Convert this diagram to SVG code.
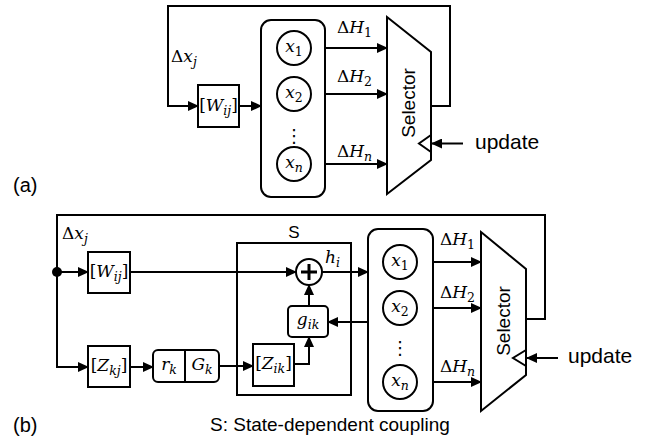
<svg xmlns="http://www.w3.org/2000/svg" width="651" height="438" viewBox="0 0 651 438">
<defs>
<marker id="arr" markerUnits="userSpaceOnUse" markerWidth="11" markerHeight="10" refX="10" refY="5" orient="auto">
<path d="M0,0 L11,5 L0,10 z" fill="#000"/>
</marker>
<style>
.ln{fill:none;stroke:#000;stroke-width:2;stroke-linejoin:miter}
.bx{fill:#fff;stroke:#000;stroke-width:2}
.sans{font-family:"Liberation Sans",Arial,sans-serif;fill:#000}
.m{font-family:"DejaVu Serif","Liberation Serif",serif;font-size:17px;fill:#000}
.it{font-style:italic}
.sb{font-size:12.5px}
.dots{font-family:"DejaVu Sans",sans-serif;font-size:18px;fill:#000}
</style>
</defs>
<rect width="651" height="438" fill="#fff"/>

<g id="connectors">
<polyline class="ln" points="431,106 450,106 450,6 168,6 168,106 198,106" marker-end="url(#arr)"/>
<line class="ln" x1="239" y1="106" x2="261" y2="106" marker-end="url(#arr)"/>
<line class="ln" x1="311" y1="48" x2="387" y2="48" marker-end="url(#arr)"/>
<line class="ln" x1="311" y1="94" x2="387" y2="94" marker-end="url(#arr)"/>
<line class="ln" x1="311" y1="164" x2="387" y2="164" marker-end="url(#arr)"/>
<line class="ln" x1="463" y1="143.5" x2="432" y2="143.5" marker-end="url(#arr)"/>
<polyline class="ln" points="526,319 545,319 545,215 57,215 57,367 88,367" marker-end="url(#arr)"/>
<line class="ln" x1="57" y1="272" x2="88" y2="272" marker-end="url(#arr)"/>
<line class="ln" x1="130" y1="272" x2="296" y2="272" marker-end="url(#arr)"/>
<line class="ln" x1="130" y1="367" x2="153" y2="367" marker-end="url(#arr)"/>
<line class="ln" x1="219" y1="366" x2="253" y2="366" marker-end="url(#arr)"/>
<polyline class="ln" points="294,364 309,364 309,337" marker-end="url(#arr)"/>
<line class="ln" x1="309" y1="306" x2="309" y2="285" marker-end="url(#arr)"/>
<line class="ln" x1="322" y1="272" x2="368" y2="272" marker-end="url(#arr)"/>
<line class="ln" x1="368" y1="322" x2="328" y2="322" marker-end="url(#arr)"/>
<line class="ln" x1="417" y1="262" x2="481" y2="262" marker-end="url(#arr)"/>
<line class="ln" x1="417" y1="308" x2="481" y2="308" marker-end="url(#arr)"/>
<line class="ln" x1="417" y1="382" x2="481" y2="382" marker-end="url(#arr)"/>
<line class="ln" x1="558" y1="358" x2="527" y2="358" marker-end="url(#arr)"/>
<circle cx="57" cy="272" r="5" fill="#000"/>
</g>

<g id="labels">
<text class="sans" x="13" y="192" font-size="20">(a)</text>
<text class="sans" x="13" y="432" font-size="20">(b)</text>
<text class="m" x="171" y="62">Δ<tspan class="it">x</tspan><tspan class="it sb" dy="4">j</tspan></text>
<text class="m" x="62" y="239">Δ<tspan class="it">x</tspan><tspan class="it sb" dy="4">j</tspan></text>
<text class="m" x="337" y="33">Δ<tspan class="it">H</tspan><tspan class="sb" dy="4">1</tspan></text>
<text class="m" x="337" y="82">Δ<tspan class="it">H</tspan><tspan class="sb" dy="4">2</tspan></text>
<text class="m" x="337" y="157">Δ<tspan class="it">H</tspan><tspan class="it sb" dy="4">n</tspan></text>
<text class="m" x="440" y="245">Δ<tspan class="it">H</tspan><tspan class="sb" dy="4">1</tspan></text>
<text class="m" x="440" y="298">Δ<tspan class="it">H</tspan><tspan class="sb" dy="4">2</tspan></text>
<text class="m" x="440" y="372">Δ<tspan class="it">H</tspan><tspan class="it sb" dy="4">n</tspan></text>
<text class="m" x="325" y="263"><tspan class="it">h</tspan><tspan class="it sb" dy="4">i</tspan></text>
<text class="sans" x="475" y="149" font-size="21">update</text>
<text class="sans" x="568" y="363" font-size="21">update</text>
<text class="sans" x="294" y="238" font-size="17" text-anchor="middle">S</text>
<text class="sans" x="210" y="431" font-size="19">S: State-dependent coupling</text>
</g>

<g id="a-W">
<rect class="bx" x="198" y="85" width="41" height="42"/>
<text class="m" x="218.5" y="111" text-anchor="middle">[<tspan class="it">W</tspan><tspan class="it sb" dy="4">ij</tspan><tspan dy="-4">]</tspan></text>
</g>
<g id="a-states">
<rect class="bx" x="261" y="20" width="64" height="177" rx="10"/>
<circle class="bx" cx="294" cy="48" r="17"/>
<text class="m" x="294" y="52" text-anchor="middle"><tspan class="it">x</tspan><tspan class="sb" dy="4">1</tspan></text>
<circle class="bx" cx="294" cy="94" r="17"/>
<text class="m" x="294" y="98" text-anchor="middle"><tspan class="it">x</tspan><tspan class="sb" dy="4">2</tspan></text>
<text class="dots" x="294" y="142" text-anchor="middle">⋮</text>
<circle class="bx" cx="294" cy="164" r="17"/>
<text class="m" x="294" y="168" text-anchor="middle"><tspan class="it">x</tspan><tspan class="it sb" dy="4">n</tspan></text>
</g>
<g id="a-selector">
<polygon class="bx" points="387,17 431,52 431,160 387,194"/>
<polyline class="ln" points="431,135 419,143.5 431,152"/>
<text class="sans" x="415" y="103" font-size="19" text-anchor="middle" transform="rotate(-90 415 103)">Selector</text>
</g>

<g id="b-W">
<rect class="bx" x="88" y="252" width="42" height="41"/>
<text class="m" x="109" y="277" text-anchor="middle">[<tspan class="it">W</tspan><tspan class="it sb" dy="4">ij</tspan><tspan dy="-4">]</tspan></text>
</g>
<g id="b-Z">
<rect class="bx" x="88" y="346" width="42" height="41"/>
<text class="m" x="109" y="371" text-anchor="middle">[<tspan class="it">Z</tspan><tspan class="it sb" dy="4">kj</tspan><tspan dy="-4">]</tspan></text>
</g>
<g id="b-rG">
<rect class="bx" x="153" y="350" width="66" height="32" rx="5"/>
<line class="ln" x1="185" y1="350" x2="185" y2="382"/>
<text class="m" x="169" y="370" text-anchor="middle"><tspan class="it">r</tspan><tspan class="it sb" dy="4">k</tspan></text>
<text class="m" x="202" y="370" text-anchor="middle"><tspan class="it">G</tspan><tspan class="it sb" dy="4">k</tspan></text>
</g>
<g id="b-S">
<rect x="237" y="243" width="114" height="152" fill="none" stroke="#000" stroke-width="2"/>
</g>
<g id="b-sum">
<circle class="bx" cx="309" cy="272" r="13"/>
<path d="M301,272 H317 M309,264 V280" stroke="#000" stroke-width="3" fill="none"/>
</g>
<g id="b-g">
<rect class="bx" x="288" y="306" width="40" height="31" rx="4"/>
<text class="m" x="308" y="325" text-anchor="middle"><tspan class="it">g</tspan><tspan class="it sb" dy="4">ik</tspan></text>
</g>
<g id="b-Zik">
<rect class="bx" x="253" y="344" width="41" height="42"/>
<text class="m" x="273.5" y="369" text-anchor="middle">[<tspan class="it">Z</tspan><tspan class="it sb" dy="4">ik</tspan><tspan dy="-4">]</tspan></text>
</g>
<g id="b-states">
<rect class="bx" x="368" y="229" width="65" height="182" rx="10"/>
<circle class="bx" cx="400" cy="262" r="17"/>
<text class="m" x="400" y="266" text-anchor="middle"><tspan class="it">x</tspan><tspan class="sb" dy="4">1</tspan></text>
<circle class="bx" cx="400" cy="308" r="17"/>
<text class="m" x="400" y="312" text-anchor="middle"><tspan class="it">x</tspan><tspan class="sb" dy="4">2</tspan></text>
<text class="dots" x="400" y="354" text-anchor="middle">⋮</text>
<circle class="bx" cx="400" cy="382" r="17"/>
<text class="m" x="400" y="386" text-anchor="middle"><tspan class="it">x</tspan><tspan class="it sb" dy="4">n</tspan></text>
</g>
<g id="b-selector">
<polygon class="bx" points="481,232 526,269 526,375 481,411"/>
<polyline class="ln" points="526,350 513,358 526,366"/>
<text class="sans" x="510" y="321" font-size="19" text-anchor="middle" transform="rotate(-90 510 321)">Selector</text>
</g>
</svg>
